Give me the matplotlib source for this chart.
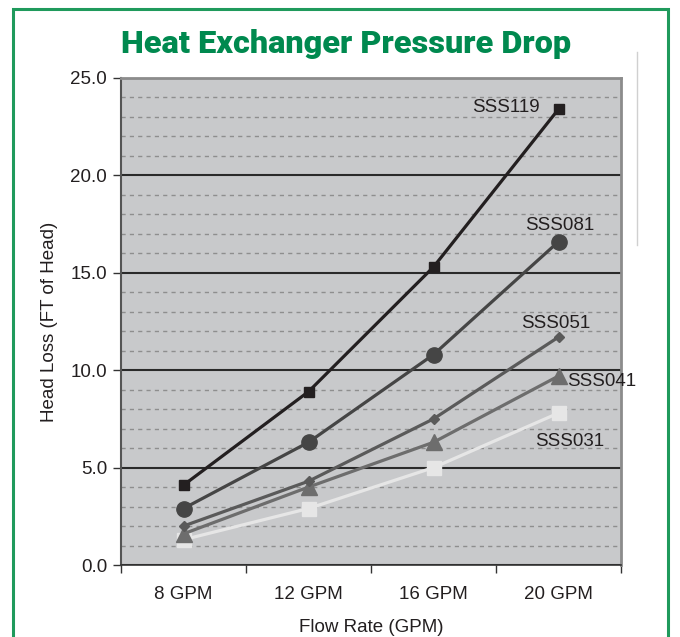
import numpy as np
import matplotlib.pyplot as plt
from matplotlib.patches import Rectangle
from matplotlib.lines import Line2D

plt.rcParams['font.family'] = ['Liberation Sans', 'DejaVu Sans']

categories = ['8 GPM', '12 GPM', '16 GPM', '20 GPM']
sss119 = [4.1, 8.9, 15.3, 23.4]
sss081 = [2.9, 6.3, 10.8, 16.6]
sss051 = [2.0, 4.3, 7.5, 11.7]
sss041 = [1.6, 4.0, 6.3, 9.7]
sss031 = [1.3, 2.9, 5.0, 7.8]
names = ['SSS031', 'SSS041', 'SSS051', 'SSS081', 'SSS119']

fig = plt.figure(figsize=(6.8, 6.37), dpi=100)

# green frame around the whole chart
fig.patches.append(Rectangle((13/680, -0.05), 655/680, 1.05 - 9/637,
                             transform=fig.transFigure, fill=False,
                             edgecolor='#1f9a5c', linewidth=2.2))
fig.lines.append(Line2D([637/680, 637/680], [1 - 52/637, 1 - 245/637],
                        transform=fig.transFigure, color='#d0d0d0', lw=1))

fig.text(346/680, 1 - 44/637, 'Heat Exchanger Pressure Drop',
         family=['Roboto', 'DejaVu Sans'],
         fontsize=23.4, fontweight='black',
         color='#00894f', ha='center', va='center')

ax = fig.add_axes([121/680, 72/637, 500/680, 487/637])
ax.set_facecolor('#c8c9cb')
x = np.arange(len(categories))

series = [sss031, sss041, sss051, sss081, sss119]
colors = ['#e6e6e6', '#6d6d6d', '#5a5a5a', '#454545', '#231f20']
markers = ['s', '^', 'D', 'o', 's']
msizes = [10, 11, 5.5, 11, 7.5]
for vals, c, m, ms in zip(series, colors, markers, msizes):
    ax.plot(x, vals, color=c, lw=2.3, marker=m, markersize=ms,
            markeredgecolor=c, zorder=3)

# series labels near the last point
offsets = [(11, -28, 'center'), (9, -5, 'left'), (-3, 14, 'center'),
           (1, 16, 'center'), (-19, 2, 'right')]
for name, vals, (dx, dy, ha) in zip(names, series, offsets):
    ax.annotate(name, (x[-1], vals[-1]), xytext=(dx / 1.389, dy / 1.389),
                textcoords='offset points', ha=ha, va='center',
                fontsize=13.5, color='#231f20', zorder=4)

ax.set_xlim(-0.5, 3.5)
ax.set_ylim(0, 25)
ax.set_yticks(np.arange(0, 26, 5))
ax.set_yticklabels([f'{v:.1f}' for v in np.arange(0, 26, 5)])
ax.set_yticks(np.arange(0, 26, 1), minor=True)
ax.set_xticks(np.arange(-0.5, 4, 1))
ax.set_xticklabels([])
ax.set_xticks(x, minor=True)
ax.set_xticklabels(categories, minor=True)

ax.grid(axis='y', which='minor', color='#8e8e8e', linestyle=(0, (3, 3)), lw=1)
ax.grid(axis='y', which='major', color='#2a2a2a', linestyle='-', lw=1.5)
ax.set_axisbelow(True)

ax.tick_params(axis='y', which='major', length=6, width=1, labelsize=13.5,
               color='#333333', labelcolor='#231f20', pad=4)
ax.tick_params(axis='y', which='minor', length=0)
ax.tick_params(axis='x', which='major', length=6, width=1, color='#333333')
ax.tick_params(axis='x', which='minor', length=0, labelsize=13.5,
               labelcolor='#231f20', pad=15)

for side in ['top', 'right']:
    ax.spines[side].set_color('#8c8c8c')
    ax.spines[side].set_linewidth(2)
ax.spines['left'].set_color('#555555')
ax.spines['left'].set_linewidth(1.5)
ax.spines['bottom'].set_color('#333333')
ax.spines['bottom'].set_linewidth(1.2)

ax.set_ylabel('Head Loss (FT of Head)', fontsize=13.5, color='#231f20', labelpad=9)
ax.set_xlabel('Flow Rate (GPM)', fontsize=13.5, color='#231f20', labelpad=12)

plt.savefig('out.png', dpi=100)
